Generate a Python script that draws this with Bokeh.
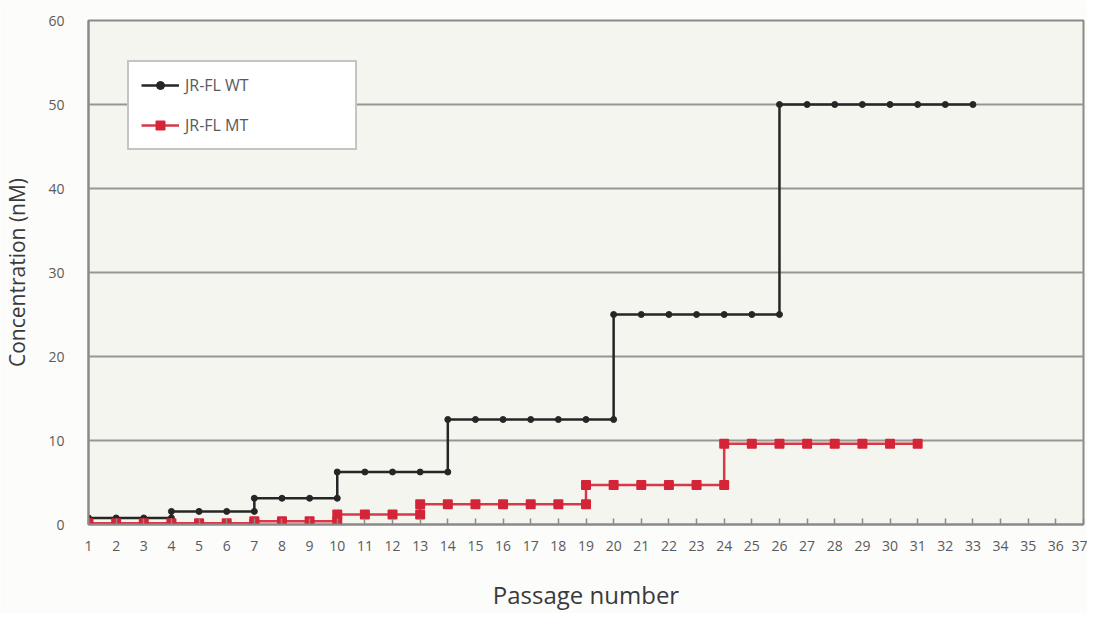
from bokeh.plotting import figure
from bokeh.models import Range1d, FixedTicker, Legend, LegendItem
from bokeh.embed import file_html
from bokeh.resources import INLINE

# ---- data (passage number, concentration nM); duplicated x = step ----
wt_passage = [1, 2, 3, 4, 4, 5, 6, 7, 7, 8, 9, 10, 10, 11, 12, 13, 14,
              14, 15, 16, 17, 18, 19, 20, 20, 21, 22, 23, 24, 25, 26,
              26, 27, 28, 29, 30, 31, 32, 33]
wt_conc = [0.78, 0.78, 0.78, 0.78, 1.56, 1.56, 1.56, 1.56, 3.125, 3.125, 3.125, 3.125,
           6.25, 6.25, 6.25, 6.25, 6.25,
           12.5, 12.5, 12.5, 12.5, 12.5, 12.5, 12.5,
           25, 25, 25, 25, 25, 25, 25,
           50, 50, 50, 50, 50, 50, 50, 50]

mt_passage = [1, 2, 3, 4, 5, 6, 7, 7, 8, 9, 10, 10, 11, 12, 13,
              13, 14, 15, 16, 17, 18, 19, 19, 20, 21, 22, 23, 24,
              24, 25, 26, 27, 28, 29, 30, 31]
mt_conc = [0.15, 0.15, 0.15, 0.15, 0.15, 0.15, 0.15, 0.39, 0.39, 0.39, 0.39,
           1.2, 1.2, 1.2, 1.2,
           2.4, 2.4, 2.4, 2.4, 2.4, 2.4, 2.4,
           4.7, 4.7, 4.7, 4.7, 4.7, 4.7,
           9.6, 9.6, 9.6, 9.6, 9.6, 9.6, 9.6, 9.6]

x_ticks = list(range(1, 38))
y_ticks = [0, 10, 20, 30, 40, 50, 60]

FONT = "Open Sans"

p = figure(width=1087, height=613, output_backend="svg", toolbar_location=None,
           x_range=Range1d(1, 37), y_range=Range1d(0, 60),
           min_border_left=88, min_border_right=4, min_border_top=20, min_border_bottom=89)

p.background_fill_color = "#f4f5ee"
p.border_fill_color = "#fcfcfa"
p.outline_line_color = "#8a8a8a"
p.outline_line_width = 2

# axes
p.xaxis.ticker = FixedTicker(ticks=x_ticks)
p.yaxis.ticker = FixedTicker(ticks=y_ticks)
p.xaxis.minor_tick_line_color = None
p.yaxis.minor_tick_line_color = None
p.xaxis.major_tick_in = 6
p.xaxis.major_tick_out = 0
p.xaxis.major_tick_line_color = "#8a8a8a"
p.xaxis.major_tick_line_width = 1.5
p.yaxis.major_tick_line_color = None
p.xaxis.axis_line_color = "#8a8a8a"
p.yaxis.axis_line_color = "#8a8a8a"
p.xaxis.axis_line_width = 2
p.yaxis.axis_line_width = 2

for ax in (p.xaxis, p.yaxis):
    ax.major_label_text_font = FONT
    ax.major_label_text_font_size = "14px"
    ax.major_label_text_color = "#5a5a5a"
    ax.axis_label_text_font = FONT
    ax.axis_label_text_font_style = "normal"
    ax.axis_label_text_color = "#3a3a3a"

p.xaxis.major_label_standoff = 16
p.yaxis.major_label_standoff = 18
p.xaxis.axis_label = "Passage number"
p.xaxis.axis_label_text_font_size = "24px"
p.xaxis.axis_label_standoff = 24
p.yaxis.axis_label = "Concentration (nM)"
p.yaxis.axis_label_text_font_size = "21px"
p.yaxis.axis_label_standoff = 14

# grid
p.xgrid.grid_line_color = None
p.ygrid.grid_line_color = "#949894"
p.ygrid.grid_line_width = 1.8

# series
wt_line = p.line(wt_passage, wt_conc, line_color="#262626", line_width=2.5)
wt_pts = p.scatter(wt_passage, wt_conc, marker="circle", size=6,
                   fill_color="#262626", line_color="#262626")
mt_line = p.line(mt_passage, mt_conc, line_color="#d63a48", line_width=2.5)
mt_pts = p.scatter(mt_passage, mt_conc, marker="square", size=8,
                   fill_color="#d42437", line_color="#d42437", line_width=2, line_join="round")

legend = Legend(items=[LegendItem(label="JR-FL WT", renderers=[wt_line, wt_pts]),
                       LegendItem(label="JR-FL MT", renderers=[mt_line, mt_pts])],
                location=(39, 374))
legend.background_fill_color = "white"
legend.background_fill_alpha = 1.0
legend.border_line_color = "#8a8a8a"
legend.border_line_width = 2
legend.padding = 12
legend.spacing = 18
legend.margin = 0
legend.glyph_width = 38
legend.glyph_height = 20
legend.label_height = 20
legend.label_width = 158
legend.label_standoff = 6
legend.label_text_font = FONT
legend.label_text_font_size = "16px"
legend.label_text_color = "#5a5a5a"
p.add_layout(legend, "center")

open("out.html", "w").write(file_html(p, INLINE))
